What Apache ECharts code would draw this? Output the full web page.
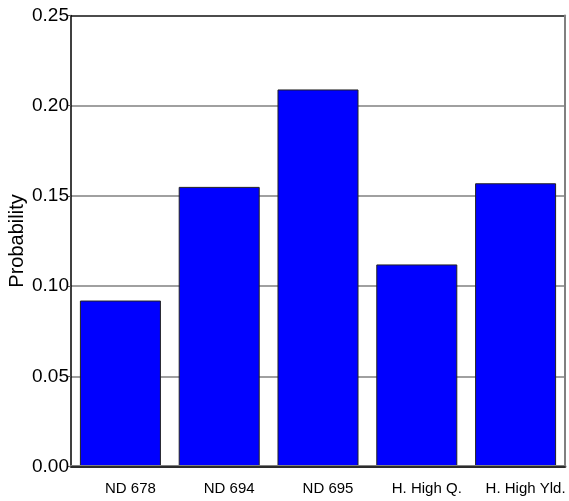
<!DOCTYPE html>
<html><head><meta charset="utf-8">
<script src="https://cdn.jsdelivr.net/npm/echarts@6/dist/echarts.min.js"></script>
<style>html,body{margin:0;padding:0;background:#fff}#c{width:569px;height:501px}</style>
</head><body><div id="c"></div>
<script>
var categories = ['ND 678', 'ND 694', 'ND 695', 'H. High Q.', 'H. High Yld.'];
var probability = [0.092, 0.155, 0.209, 0.112, 0.157];
var yTicks = [0, 0.05, 0.10, 0.15, 0.20, 0.25];

var chart = echarts.init(document.getElementById('c'), null, {renderer: 'canvas'});
var font = 'Liberation Sans, Arial, sans-serif';
chart.setOption({
  animation: false,
  backgroundColor: '#fff',
  grid: {left: 71, right: 4, top: 15.5, bottom: 34.5, containLabel: false, outerBoundsMode: 'none'},
  xAxis: [{
    type: 'category', data: categories, position: 'bottom', z: 5,
    axisLine: {show: true, lineStyle: {color: '#808080', width: 3}},
    axisTick: {show: false},
    axisLabel: {fontFamily: font, fontSize: 15, color: '#000', margin: 15, padding: [0, 0, 0, 20], interval: 0}
  }, {
    type: 'category', data: categories, position: 'top', z: 10,
    axisLine: {show: true, lineStyle: {color: '#111', width: 1.5}},
    axisTick: {show: false}, axisLabel: {show: false}
  }],
  yAxis: [{
    type: 'value', min: yTicks[0], max: yTicks[yTicks.length - 1], interval: 0.05,
    name: 'Probability', nameLocation: 'middle', nameGap: 44, nameMoveOverlap: false,
    nameTextStyle: {fontFamily: font, fontSize: 20, color: '#000'},
    axisLine: {show: true, lineStyle: {color: '#000', width: 1.5}},
    axisTick: {show: true, length: 3, lineStyle: {color: '#555'}},
    axisLabel: {fontFamily: font, fontSize: 19, color: '#000', margin: 2,
      formatter: function (v) { return v.toFixed(2); }},
    splitLine: {show: true, lineStyle: {color: ['#808080', '#808080', '#808080', '#808080', '#808080', '#111'], width: 1.5}}
  }, {
    type: 'value', min: yTicks[0], max: yTicks[yTicks.length - 1], interval: 0.05, position: 'right',
    axisLine: {show: true, lineStyle: {color: '#808080', width: 2}},
    axisTick: {show: false}, axisLabel: {show: false}, splitLine: {show: false}
  }],
  series: [{
    type: 'bar', data: probability, xAxisIndex: 0, yAxisIndex: 0,
    barCategoryGap: '18%', z: 2,
    itemStyle: {color: '#0000ff', borderColor: '#222', borderWidth: 1}
  }]
});
</script></body></html>
